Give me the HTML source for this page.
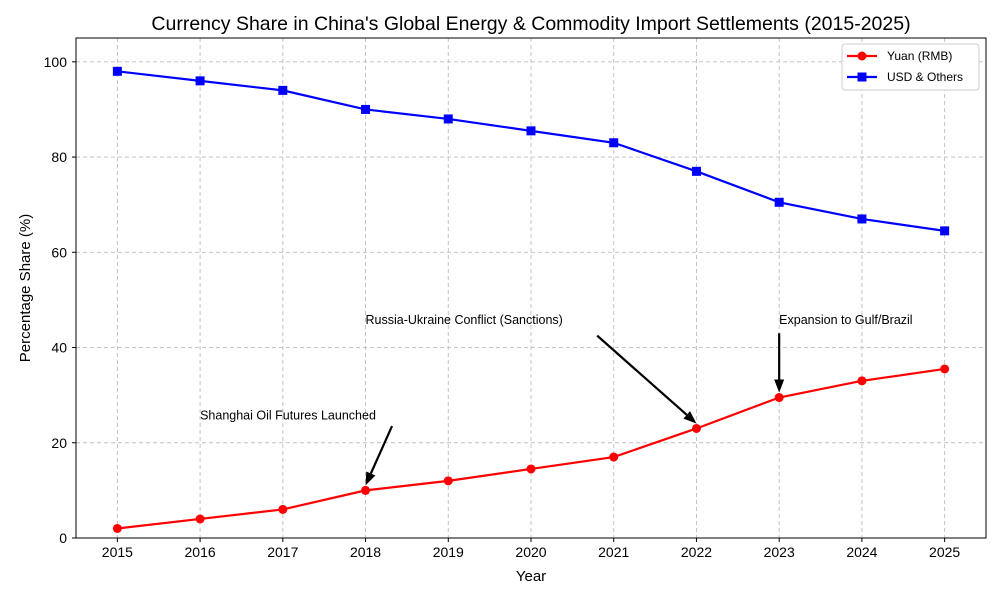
<!DOCTYPE html>
<html><head><meta charset="utf-8"><style>
body{margin:0;background:#fff;font-family:"Liberation Sans",sans-serif}
svg text{font-family:"Liberation Sans",sans-serif}
</style></head><body>
<svg id="chart" width="1000" height="600" xmlns="http://www.w3.org/2000/svg">
<rect width="1000" height="600" fill="#fff"/>
<g id="grid"></g><g id="axes"></g><g id="series"></g><g id="ann"></g>
</svg>
<script>
const years=[2015,2016,2017,2018,2019,2020,2021,2022,2023,2024,2025];
const yuan=[2,4,6,10,12,14.5,17,23,29.5,33,35.5];
const usd=[98,96,94,90,88,85.5,83,77,70.5,67,64.5];
const yTicks=[0,20,40,60,80,100];
const annotations=[
 {text:"Shanghai Oil Futures Launched",tx:2016,ty:25,ax:2018,ay:10,sx:2018.32,sy:23.5,name:"annotation-shanghai"},
 {text:"Russia-Ukraine Conflict (Sanctions)",tx:2018,ty:45,ax:2022,ay:23,sx:2020.8,sy:42.5,name:"annotation-russia"},
 {text:"Expansion to Gulf/Brazil",tx:2023,ty:45,ax:2023,ay:29.5,sx:2023,sy:43,name:"annotation-expansion"}
];
const L=76,R=986,T=38,B=538,X0=2014.5,X1=2025.5,Y0=0,Y1=105;
const NS="http://www.w3.org/2000/svg";
const x=v=>L+(v-X0)/(X1-X0)*(R-L);
const y=v=>B-(v-Y0)/(Y1-Y0)*(B-T);
function mk(tag,attrs,parent,txt){const e=document.createElementNS(NS,tag);for(const k in attrs)e.setAttribute(k,attrs[k]);if(txt!==undefined)e.textContent=txt;parent.appendChild(e);return e;}
const grid=document.getElementById('grid'),axes=document.getElementById('axes'),ser=document.getElementById('series'),ann=document.getElementById('ann');
years.forEach(yr=>{
 const g=mk('line',{x1:x(yr),x2:x(yr),y1:T,y2:B,stroke:'#bdbdbd','stroke-dasharray':'4,3','stroke-width':0.9},grid);
 
 mk('line',{x1:x(yr),x2:x(yr),y1:B,y2:B+4,stroke:'#000'},axes);
 const t=mk('text',{x:x(yr),y:B+19,'text-anchor':'middle','font-size':14},axes,yr);
 
});
yTicks.forEach(v=>{
 const g=mk('line',{x1:L,x2:R,y1:y(v),y2:y(v),stroke:'#bdbdbd','stroke-dasharray':'4,3','stroke-width':0.9},grid);
 
 mk('line',{x1:L-4,x2:L,y1:y(v),y2:y(v),stroke:'#000'},axes);
 const t=mk('text',{x:L-9,y:y(v)+5,'text-anchor':'end','font-size':14},axes,v);
 
});
const frame=mk('rect',{x:L,y:T,width:R-L,height:B-T,fill:'none',stroke:'#000','stroke-width':1},axes);

const title=mk('text',{x:(L+R)/2,y:30,'text-anchor':'middle','font-size':19.5},axes,"Currency Share in China's Global Energy & Commodity Import Settlements (2015-2025)");

const xt=mk('text',{x:(L+R)/2,y:581,'text-anchor':'middle','font-size':15},axes,'Year');

const yt=mk('text',{x:30,y:(T+B)/2,'text-anchor':'middle','font-size':15,transform:`rotate(-90 30 ${(T+B)/2})`},axes,'Percentage Share (%)');

function drawSeries(vals,color,marker,name){
 const p=mk('polyline',{points:vals.map((v,i)=>x(years[i])+','+y(v)).join(' '),fill:'none',stroke:color,'stroke-width':2.2},ser);
 
 vals.forEach((v,i)=>{
  let m;
  if(marker==='circle')m=mk('circle',{cx:x(years[i]),cy:y(v),r:4.5,fill:color},ser);
  else m=mk('rect',{x:x(years[i])-4.5,y:y(v)-4.5,width:9,height:9,fill:color},ser);
  
 });
}
drawSeries(yuan,'#ff0000','circle','yuan');
drawSeries(usd,'#0000ff','square','usd');
annotations.forEach(a=>{
 const t=mk('text',{x:x(a.tx),y:y(a.ty)+0.5,'font-size':12.5},ann,a.text);
 
 const x1=x(a.sx),y1=y(a.sy),x2=x(a.ax),y2=y(a.ay)-5;
 const ang=Math.atan2(y2-y1,x2-x1),hl=13,hw=5;
 const bx=x2-hl*Math.cos(ang),by=y2-hl*Math.sin(ang);
 const l=mk('line',{x1:x1,y1:y1,x2:bx,y2:by,stroke:'#000','stroke-width':2.2},ann);
 
 const px=-Math.sin(ang)*hw,py=Math.cos(ang)*hw;
 const h=mk('polygon',{points:`${x2},${y2} ${bx+px},${by+py} ${bx-px},${by-py}`,fill:'#000'},ann);
 
});
const lg=mk('g',{},ann);

mk('rect',{x:842,y:44,width:137,height:46,fill:'#fff',stroke:'#ccc',rx:3},lg);
[['Yuan (RMB)','#ff0000','circle',56],['USD & Others','#0000ff','square',77]].forEach(([n,c,m,yy])=>{
 const e=mk('g',{},lg);
 
 mk('line',{x1:847,x2:877,y1:yy,y2:yy,stroke:c,'stroke-width':2.2},e);
 if(m==='circle')mk('circle',{cx:862,cy:yy,r:4.5,fill:c},e);else mk('rect',{x:857.5,y:yy-4.5,width:9,height:9,fill:c},e);
 mk('text',{x:887,y:yy+4,'font-size':12},e,n);
});
</script>
</body></html>
